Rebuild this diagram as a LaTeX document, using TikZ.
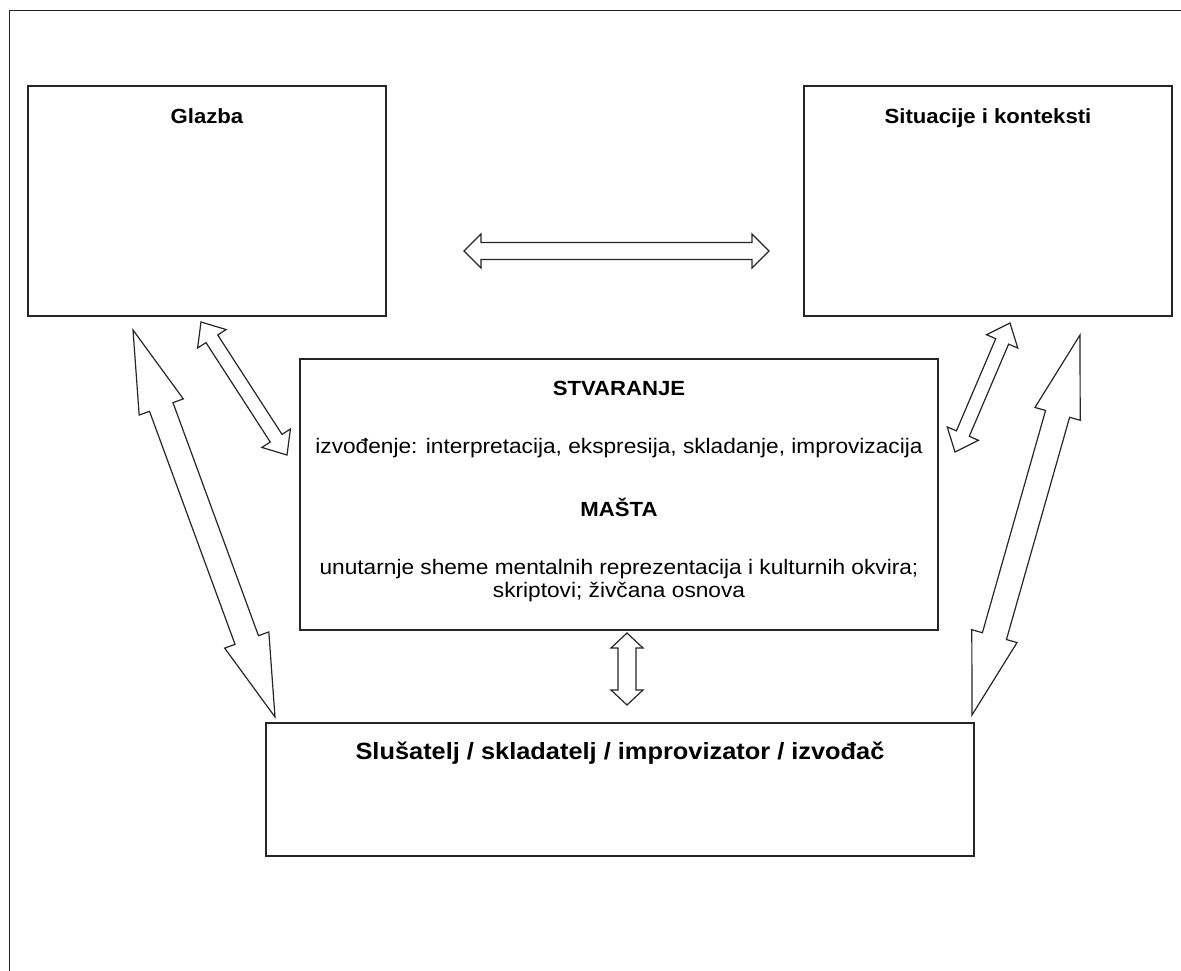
\documentclass[tikz,border=0pt]{standalone}
\usepackage{fontspec}
\setmainfont{Liberation Sans}[FakeStretch=1.08]
\usetikzlibrary{calc,positioning}
\tikzstyle{box} =[draw=black!85, line width=1.5pt, inner sep=0pt]
\tikzstyle{head}=[font=\bfseries\fontsize{20.5}{24}\selectfont, anchor=base, inner sep=0pt]
\tikzstyle{body}=[font=\fontsize{21}{24}\selectfont, anchor=base, inner sep=0pt]
\tikzstyle{fat} =[draw=black!85, line width=1.2pt, fill=white, line join=miter]
% fat double arrow: from, to, shaft half width, head half width, head length
\newcommand{\fatarrow}[5]{%
  \draw[fat] (#1) -- ($(#1)!#5!(#2)!#4!90:(#2)$) -- ($(#1)!#5!(#2)!#3!90:(#2)$)
    -- ($(#2)!#5!(#1)!#3!-90:(#1)$) -- ($(#2)!#5!(#1)!#4!-90:(#1)$) -- (#2)
    -- ($(#2)!#5!(#1)!#4!90:(#1)$) -- ($(#2)!#5!(#1)!#3!90:(#1)$)
    -- ($(#1)!#5!(#2)!#3!-90:(#2)$) -- ($(#1)!#5!(#2)!#4!-90:(#2)$) -- cycle;}

\begin{document}
\begin{tikzpicture}[x=1pt, y=-1pt]
\useasboundingbox (0,0) rectangle (1181,971);
\draw[line width=1.5pt, black!85] (9.5,971) -- (9.5,10.5) -- (1181,10.5);
% boxes
\node[box, minimum width=358pt, minimum height=230pt] (glazba) at (207,201) {};
\node[box, minimum width=368pt, minimum height=230pt] (situacije) at (988,201) {};
\node[box, minimum width=638pt, minimum height=271pt] (stvaranje) at (619,494.5) {};
\node[box, minimum width=708pt, minimum height=133pt] (slusatelj) at (620,789.5) {};
% texts
\node[head] (glazbaT) at (207,124) {Glazba};
\node[head] (situacijeT) at (988,124) {Situacije i konteksti};
\node[head] (stvaranjeT) at (619,395) {STVARANJE};
\node[body] (izvodenje) at (619,453) {izvođenje: interpretacija, ekspresija, skladanje, improvizacija};
\node[head] (mastaT) at (619,516) {MAŠTA};
\node[body] (sheme) at (619,574) {unutarnje sheme mentalnih reprezentacija i kulturnih okvira;};
\node[body] (skriptovi) at (619,597) {skriptovi; živčana osnova};
\node[head, font=\bfseries\fontsize{23.5}{26}\selectfont] (slusateljT) at (620,759) {Slušatelj / skladatelj / improvizator / izvođač};
% arrow ends
\coordinate (h1) at (464,251);  \coordinate (h2) at (769,251);
\coordinate (l1) at (133,330);  \coordinate (l2) at (275,717);
\coordinate (s1) at (201,322);  \coordinate (s2) at (287,455);
\coordinate (r1) at (1010,323); \coordinate (r2) at (955,452);
\coordinate (q1) at (1080,335); \coordinate (q2) at (972,715);
\coordinate (v1) at (627,633);  \coordinate (v2) at (627,705);
\fatarrow{h1}{h2}{8.5pt}{17pt}{17pt}
\fatarrow{l1}{l2}{12.5pt}{23.5pt}{82pt}
\fatarrow{s1}{s2}{7pt}{17pt}{20pt}
\fatarrow{r1}{r2}{7pt}{17pt}{20pt}
\fatarrow{q1}{q2}{12.5pt}{23.5pt}{82pt}
\fatarrow{v1}{v2}{9pt}{16pt}{15pt}
\end{tikzpicture}
\end{document}
